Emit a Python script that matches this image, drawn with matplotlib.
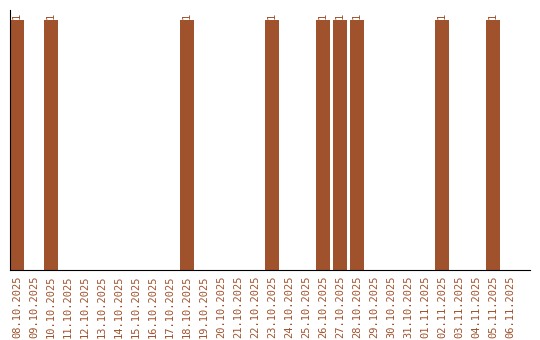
import matplotlib
matplotlib.use("Agg")
import matplotlib.pyplot as plt

dates = ["08.10.2025", "09.10.2025", "10.10.2025", "11.10.2025", "12.10.2025",
         "13.10.2025", "14.10.2025", "15.10.2025", "16.10.2025", "17.10.2025",
         "18.10.2025", "19.10.2025", "20.10.2025", "21.10.2025", "22.10.2025",
         "23.10.2025", "24.10.2025", "25.10.2025", "26.10.2025", "27.10.2025",
         "28.10.2025", "29.10.2025", "30.10.2025", "31.10.2025", "01.11.2025",
         "02.11.2025", "03.11.2025", "04.11.2025", "05.11.2025", "06.11.2025"]
values = [1, 0, 1, 0, 0, 0, 0, 0, 0, 0,
          1, 0, 0, 0, 0, 1, 0, 0, 1, 1,
          1, 0, 0, 0, 0, 1, 0, 0, 1, 0]

color = "#a0522d"
fig = plt.figure(figsize=(5.4, 3.4), dpi=100)
ax = fig.add_axes([10/540, 70/340, 520/540, 260/340])
x = list(range(len(dates)))
ax.bar(x, values, width=0.82, color=color)
for xi, v in zip(x, values):
    if v > 0:
        ax.text(xi, v + 0.005, str(v), rotation=90, ha="center", va="bottom",
                fontsize=7.5, color=color, family="DejaVu Sans Mono")
ax.set_xlim(-0.41, 30.18)
ax.set_ylim(0, 1.04)
ax.set_xticks(x)
ax.set_xticklabels(dates, rotation=90, fontsize=7.5, color=color, family="DejaVu Sans Mono")
ax.tick_params(axis="x", length=0, pad=4)
ax.set_yticks([])
ax.spines["top"].set_visible(False)
ax.spines["right"].set_visible(False)
fig.savefig("out.png", dpi=100)
